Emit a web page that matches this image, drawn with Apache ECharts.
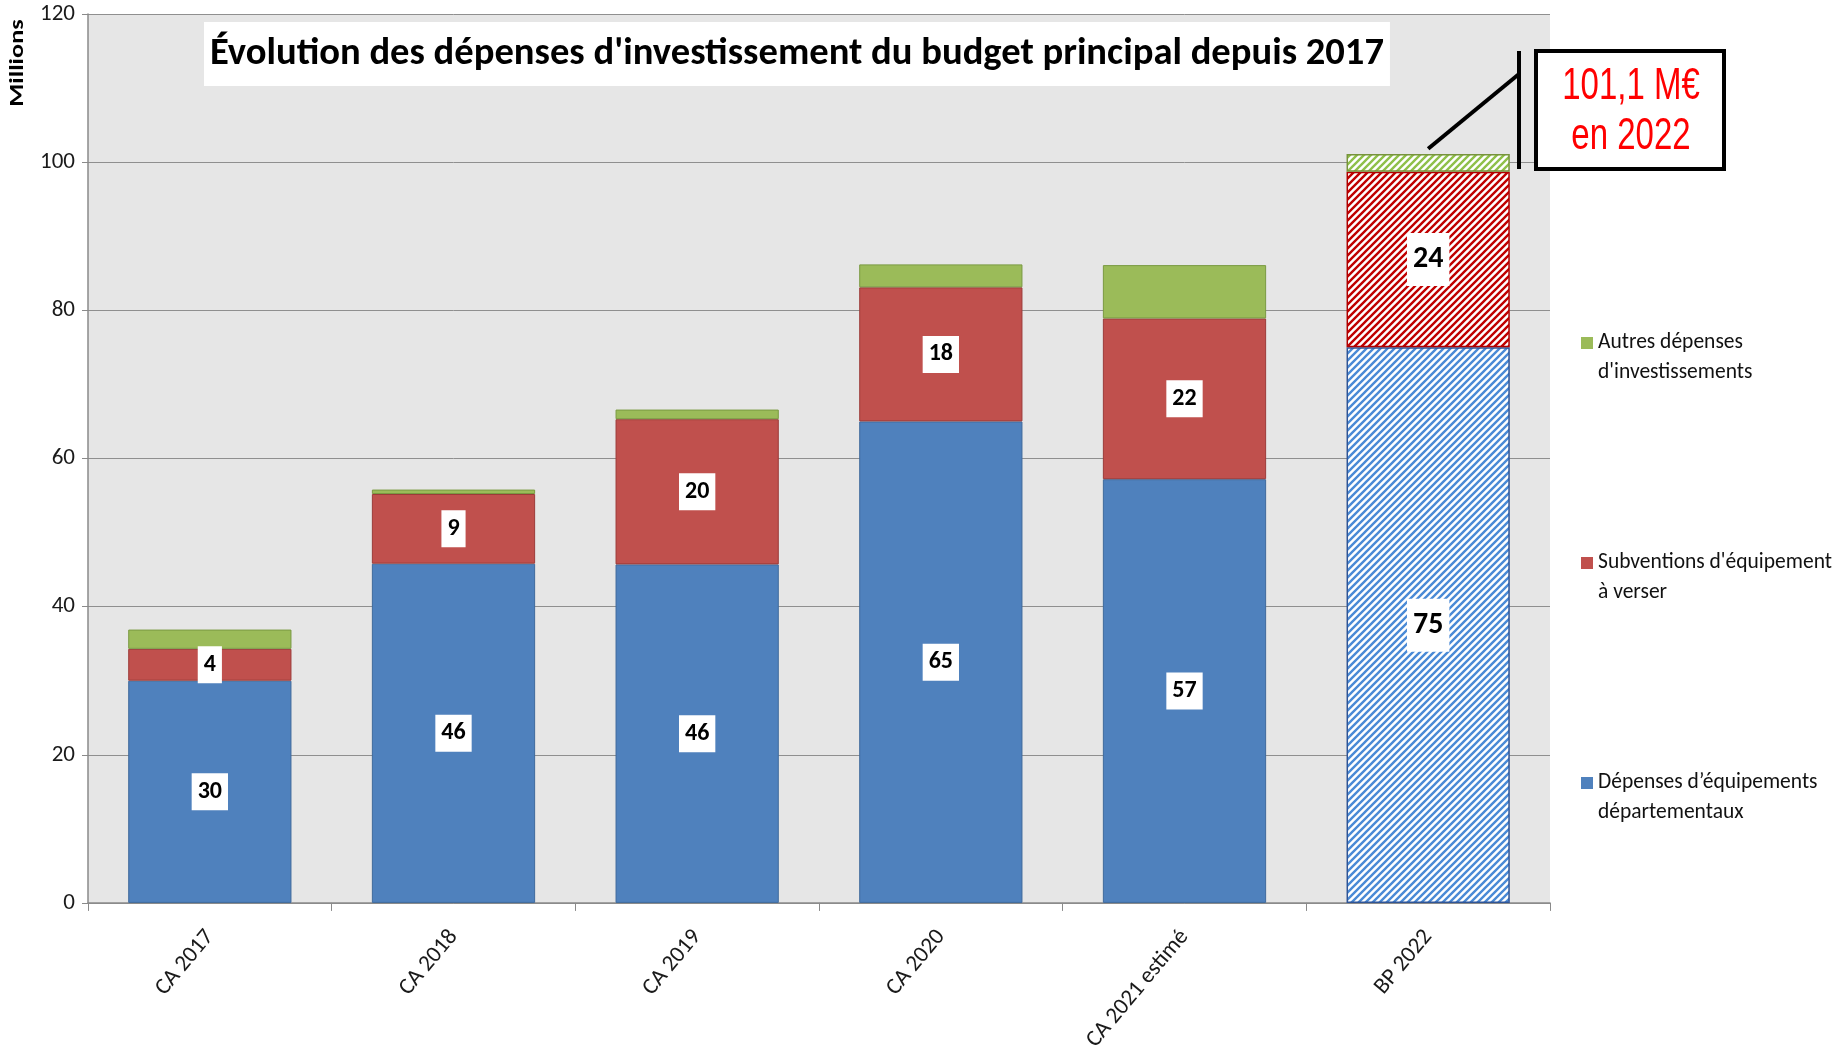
<!DOCTYPE html>
<html>
<head>
<meta charset="utf-8">
<title>Dépenses d'investissement</title>
<script src="https://cdn.jsdelivr.net/npm/echarts@6/dist/echarts.min.js"></script>
<style>
  html, body { margin: 0; padding: 0; background: #fff; }
  #container { width: 1840px; height: 1054px; }
</style>
</head>
<body>
<div id="container"></div>
<script>
var categories = ['CA 2017', 'CA 2018', 'CA 2019', 'CA 2020', 'CA 2021 estimé', 'BP 2022'];
var equipements = [30.0, 45.8, 45.7, 65.0, 57.2, 75.0];
var subventions = [4.3, 9.4, 19.6, 18.1, 21.7, 23.7];
var autres = [2.6, 0.6, 1.3, 3.1, 7.2, 2.4];
var seriesNames = ['Dépenses d’équipements départementaux', 'Subventions d\'équipement à verser', 'Autres dépenses d\'investissements'];
var legendLabels = ['Dépenses d’équipements\ndépartementaux', 'Subventions d\'équipement\nà verser', 'Autres dépenses\nd\'investissements'];
var hatchedCategory = 'BP 2022';
var calloutText = ['101,1 M€', 'en 2022'];

var narrowFont = "Carlito, 'Liberation Sans Narrow', 'Open Sans', sans-serif";

var myChart;

function makeHatch(color, lineWidth) {
    var size = 7;
    var c = document.createElement('canvas');
    c.width = size;
    c.height = size;
    var ctx = c.getContext('2d');
    ctx.fillStyle = '#ffffff';
    ctx.fillRect(0, 0, size, size);
    ctx.strokeStyle = color;
    ctx.lineWidth = lineWidth;
    ctx.beginPath();
    ctx.moveTo(-1, size + 1); ctx.lineTo(size + 1, -1);
    ctx.moveTo(-2, 2); ctx.lineTo(2, -2);
    ctx.moveTo(size - 2, size + 2); ctx.lineTo(size + 2, size - 2);
    ctx.stroke();
    return c;
}

// les barres du BP 2022 sont hachurées
function buildData(values, hatchColor, borderColor, bigLabel) {
    return values.map(function (v, i) {
        if (categories[i] !== hatchedCategory) return v;
        var item = {
            value: v,
            itemStyle: {
                color: { image: makeHatch(hatchColor, 2.4), repeat: 'repeat' },
                borderColor: borderColor,
                borderWidth: 1.5
            }
        };
        if (bigLabel) {
            item.label = { fontSize: 30, lineHeight: 34, padding: [11, 6, 8, 6] };
        }
        return item;
    });
}

var valueLabel = {
    show: true,
    position: 'inside',
    formatter: function (p) { return Math.round(p.value); },
    color: '#000',
    fontWeight: 'bold',
    fontSize: 24,
    lineHeight: 27,
    fontFamily: narrowFont,
    backgroundColor: '#ffffff',
    padding: [6, 6, 4, 6]
};

// icône carrée placée en haut d'une boîte haute, pour l'aligner sur la 1re ligne
var legendIcon = 'path://M0,0L12,0L12,12L0,12Z M0,42L0,42';

function initChart() {
    var dom = document.getElementById('container');
    myChart = echarts.init(dom, null, { renderer: 'canvas' });

    var option = {
        animation: false,
        backgroundColor: '#ffffff',
        title: {
            text: 'Évolution des dépenses d\'investissement du budget principal depuis 2017',
            left: 204,
            top: 22,
            backgroundColor: '#ffffff',
            padding: [11, 6, 10, 6],
            textStyle: {
                fontFamily: narrowFont,
                fontWeight: 'bold',
                fontSize: 38.6,
                lineHeight: 43,
                color: '#000'
            }
        },
        grid: {
            left: 88,
            right: 290,
            top: 14,
            bottom: 151,
            show: true,
            backgroundColor: '#e6e6e6',
            borderWidth: 0
        },
        legend: {
            orient: 'vertical',
            left: 1581,
            top: 328,
            padding: 0,
            itemGap: 160,
            itemWidth: 12,
            itemHeight: 42,
            icon: legendIcon,
            itemStyle: { borderWidth: 0 },
            data: [seriesNames[2], seriesNames[1], seriesNames[0]],
            formatter: function (name) {
                return legendLabels[seriesNames.indexOf(name)];
            },
            textStyle: {
                fontFamily: narrowFont,
                fontSize: 21.5,
                lineHeight: 30,
                color: '#111'
            }
        },
        xAxis: {
            type: 'category',
            data: categories,
            axisLine: { lineStyle: { color: '#8a8a8a', width: 1.5 } },
            axisTick: { show: true, length: 8, lineStyle: { color: '#8a8a8a' } },
            axisLabel: {
                rotate: 50,
                margin: 30,
                fontFamily: narrowFont,
                fontSize: 23,
                color: '#1a1a1a'
            }
        },
        yAxis: {
            type: 'value',
            min: 0,
            max: 120,
            interval: 20,
            axisLine: { show: true, lineStyle: { color: '#8a8a8a', width: 1.5 } },
            axisTick: { show: true, length: 6, lineStyle: { color: '#8a8a8a' } },
            axisLabel: {
                margin: 13,
                fontFamily: narrowFont,
                fontSize: 23,
                color: '#1a1a1a'
            },
            splitLine: { lineStyle: { color: '#8f8f8f', width: 1 } }
        },
        series: [
            {
                name: seriesNames[0],
                type: 'bar',
                stack: 'total',
                barCategoryGap: '33%',
                itemStyle: { color: '#4f81bd', borderColor: '#3f6a9c', borderWidth: 1 },
                label: valueLabel,
                data: buildData(equipements, '#4a8ad6', '#2f5597', true)
            },
            {
                name: seriesNames[1],
                type: 'bar',
                stack: 'total',
                itemStyle: { color: '#c0504d', borderColor: '#9c3b39', borderWidth: 1 },
                label: valueLabel,
                data: buildData(subventions, '#c00000', '#b00000', true)
            },
            {
                name: seriesNames[2],
                type: 'bar',
                stack: 'total',
                itemStyle: { color: '#9bbb59', borderColor: '#7a9a42', borderWidth: 1 },
                data: buildData(autres, '#8fc04a', '#77933c', false)
            }
        ]
    };

    myChart.setOption(option);

    // annotation : trait depuis le haut de la barre BP 2022 vers le cadre
    var idx = categories.indexOf(hatchedCategory);
    var total = equipements[idx] + subventions[idx] + autres[idx];
    var start = myChart.convertToPixel({ xAxisIndex: 0, yAxisIndex: 0 }, [idx, total + 0.7]);

    myChart.setOption({
        graphic: [
            {
                type: 'text',
                x: 18,
                y: 63,
                rotation: Math.PI / 2,
                scaleX: 1.25,
                style: {
                    text: 'Millions',
                    font: 'bold 21px ' + narrowFont,
                    fill: '#000',
                    align: 'center',
                    verticalAlign: 'middle'
                }
            },
            {
                type: 'line',
                shape: { x1: start[0], y1: start[1], x2: 1519, y2: 74 },
                style: { stroke: '#000', lineWidth: 4 }
            },
            {
                type: 'line',
                shape: { x1: 1519, y1: 51, x2: 1519, y2: 169 },
                style: { stroke: '#000', lineWidth: 4 }
            },
            {
                type: 'rect',
                shape: { x: 1536, y: 51, width: 188, height: 118 },
                style: { fill: '#ffffff', stroke: '#000', lineWidth: 4 }
            },
            {
                type: 'text',
                x: 1631,
                y: 112,
                scaleY: 1.32,
                style: {
                    text: calloutText.join('\n'),
                    font: "33px 'Liberation Sans', Arial, sans-serif",
                    lineHeight: 38,
                    fill: '#ff0000',
                    align: 'center',
                    verticalAlign: 'middle'
                }
            }
        ]
    });
}

initChart();
</script>
</body>
</html>
